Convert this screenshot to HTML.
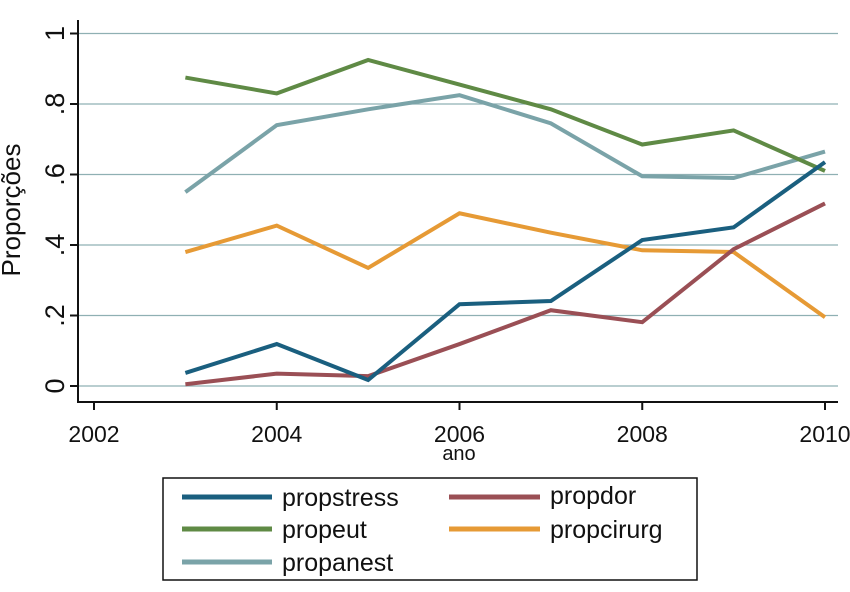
<!DOCTYPE html>
<html><head><meta charset="utf-8"><style>
body{margin:0;background:#fff;}
svg text{font-family:"Liberation Sans","DejaVu Sans",sans-serif;fill:#111;}
</style></head><body>
<svg width="850" height="587" viewBox="0 0 850 587">
<g id="grid"></g>
<line x1="78" y1="20" x2="78" y2="403" stroke="#111" stroke-width="2"/>
<line x1="77" y1="402" x2="838" y2="402" stroke="#111" stroke-width="2"/>
<g id="yticks"></g>
<g id="xticks"></g>
<g id="series"></g>
<text x="20" y="210" font-size="26" text-anchor="middle" transform="rotate(-90 20 210)">Proporções</text>
<text x="459" y="460" font-size="20" text-anchor="middle">ano</text>
<g>
<rect x="163" y="478" width="534" height="102" fill="#fff" stroke="#111" stroke-width="1.5"/>
<line x1="182" y1="497" x2="272" y2="497" stroke="#1a5f7f" stroke-width="5"/>
<text x="282" y="506" font-size="25">propstress</text>
<line x1="449" y1="497" x2="540" y2="497" stroke="#9a4f55" stroke-width="5"/>
<text x="550" y="504" font-size="25">propdor</text>
<line x1="182" y1="529" x2="272" y2="529" stroke="#5f8a45" stroke-width="5"/>
<text x="282" y="538" font-size="25">propeut</text>
<line x1="449" y1="529" x2="540" y2="529" stroke="#e69a35" stroke-width="5"/>
<text x="550" y="538" font-size="25">propcirurg</text>
<line x1="182" y1="562" x2="272" y2="562" stroke="#7aa3a8" stroke-width="5"/>
<text x="282" y="571" font-size="25">propanest</text>
</g>
</svg>
<script>
const years=[2003,2004,2005,2006,2007,2008,2009,2010];
const propstress=[0.037,0.119,0.017,0.232,0.241,0.414,0.45,0.635];
const propdor=[0.005,0.035,0.028,0.119,0.215,0.181,0.388,0.518];
const propeut=[0.875,0.83,0.925,0.855,0.785,0.685,0.725,0.61];
const propanest=[0.55,0.74,0.785,0.825,0.745,0.595,0.59,0.665];
const propcirurg=[0.38,0.455,0.335,0.49,0.435,0.385,0.38,0.195];
const yTicks=[0,0.2,0.4,0.6,0.8,1];
const yTickLabels=["0",".2",".4",".6",".8","1"];
const xTicks=[2002,2004,2006,2008,2010];
const NS="http://www.w3.org/2000/svg";
function xs(v){return 94+(v-2002)*(825-94)/8;}
function ys(v){return 386-v*352.5;}
const grid=document.getElementById('grid'),yt=document.getElementById('yticks'),xt=document.getElementById('xticks'),sg=document.getElementById('series');
yTicks.forEach((t,i)=>{
 const y=ys(t);
 const g=document.createElementNS(NS,'line');
 g.setAttribute('x1',78);g.setAttribute('x2',838);g.setAttribute('y1',y);g.setAttribute('y2',y);
 g.setAttribute('stroke','#8fb0b3');g.setAttribute('stroke-width','1.2');
 
 
 grid.appendChild(g);
 const tk=document.createElementNS(NS,'line');
 tk.setAttribute('x1',70);tk.setAttribute('x2',78);tk.setAttribute('y1',y);tk.setAttribute('y2',y);
 tk.setAttribute('stroke','#111');tk.setAttribute('stroke-width','2');
 
 
 yt.appendChild(tk);
 const tx=document.createElementNS(NS,'text');
 tx.setAttribute('x',64);tx.setAttribute('y',y);tx.setAttribute('font-size','27');
 tx.setAttribute('text-anchor','middle');tx.setAttribute('transform','rotate(-90 64 '+y+')');
 tx.textContent=yTickLabels[i];
 
 
 yt.appendChild(tx);
});
xTicks.forEach(t=>{
 const x=xs(t);
 const tk=document.createElementNS(NS,'line');
 tk.setAttribute('x1',x);tk.setAttribute('x2',x);tk.setAttribute('y1',402);tk.setAttribute('y2',410);
 tk.setAttribute('stroke','#111');tk.setAttribute('stroke-width','2');
 
 
 xt.appendChild(tk);
 const tx=document.createElementNS(NS,'text');
 tx.setAttribute('x',x);tx.setAttribute('y',442);tx.setAttribute('font-size','23');tx.setAttribute('text-anchor','middle');
 tx.textContent=t;
 
 
 xt.appendChild(tx);
});
[[propcirurg,'#e69a35','propcirurg'],[propanest,'#7aa3a8','propanest'],[propeut,'#5f8a45','propeut'],[propdor,'#9a4f55','propdor'],[propstress,'#1a5f7f','propstress']].forEach(s=>{
 const p=document.createElementNS(NS,'polyline');
 p.setAttribute('points',years.map((y,i)=>xs(y)+','+ys(s[0][i])).join(' '));
 p.setAttribute('fill','none');p.setAttribute('stroke',s[1]);p.setAttribute('stroke-width','4');
 
 
 sg.appendChild(p);
});
</script>
</body></html>
